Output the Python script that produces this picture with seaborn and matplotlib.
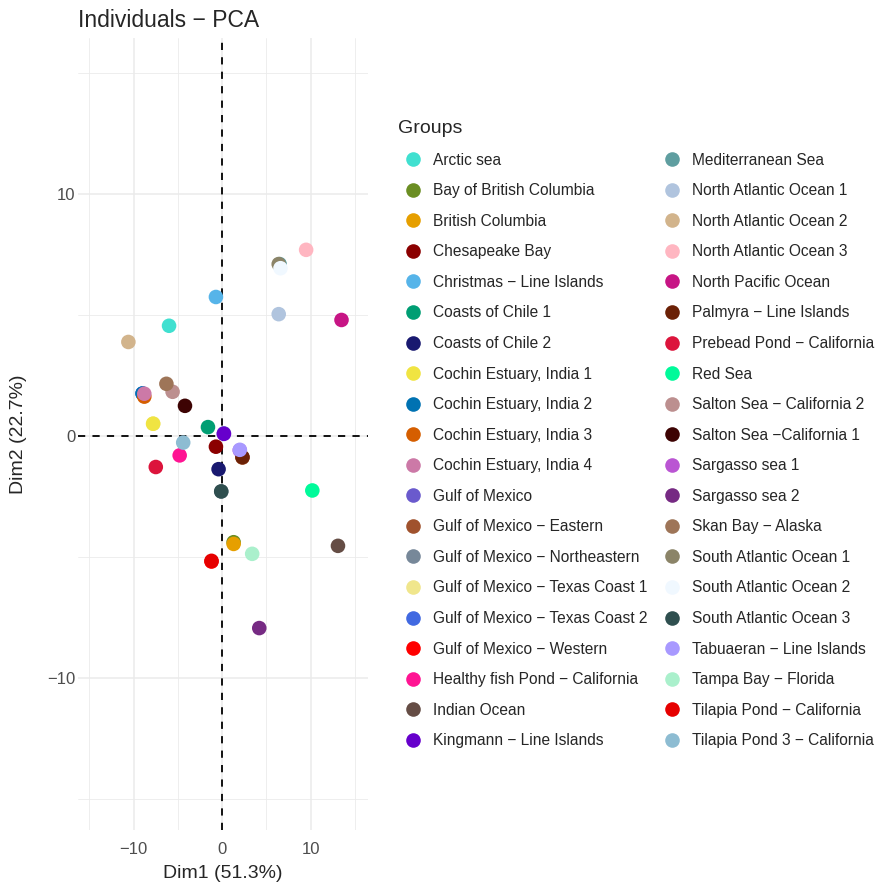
import matplotlib
matplotlib.use("Agg")
import matplotlib.pyplot as plt
from matplotlib.lines import Line2D
import seaborn as sns
import pandas as pd

# Groups in legend order
groups = [
    "Arctic sea", "Bay of British Columbia", "British Columbia", "Chesapeake Bay",
    "Christmas − Line Islands", "Coasts of Chile 1", "Coasts of Chile 2",
    "Cochin Estuary, India 1", "Cochin Estuary, India 2", "Cochin Estuary, India 3",
    "Cochin Estuary, India 4", "Gulf of Mexico", "Gulf of Mexico − Eastern",
    "Gulf of Mexico − Northeastern", "Gulf of Mexico − Texas Coast 1",
    "Gulf of Mexico − Texas Coast 2", "Gulf of Mexico − Western",
    "Healthy fish Pond − California", "Indian Ocean", "Kingmann − Line Islands",
    "Mediterranean Sea", "North Atlantic Ocean 1", "North Atlantic Ocean 2",
    "North Atlantic Ocean 3", "North Pacific Ocean", "Palmyra − Line Islands",
    "Prebead Pond − California", "Red Sea", "Salton Sea − California 2",
    "Salton Sea −California 1", "Sargasso sea 1", "Sargasso sea 2",
    "Skan Bay − Alaska", "South Atlantic Ocean 1", "South Atlantic Ocean 2",
    "South Atlantic Ocean 3", "Tabuaeran − Line Islands", "Tampa Bay − Florida",
    "Tilapia Pond − California", "Tilapia Pond 3 − California",
]

colors = [
    "#40E0D0", "#6B8E23", "#E69F00", "#8B0000", "#56B4E9", "#009E73", "#191970",
    "#F0E442", "#0072B2", "#D55E00", "#CC79A7", "#6A5ACD", "#A0522D", "#778899",
    "#F0E68C", "#4169E1", "#FF0000", "#FF1493", "#654D45", "#6600CC",
    "#5F9EA0", "#B0C4DE", "#D2B48C", "#FFB6C1", "#C71585", "#6B2106",
    "#DC143C", "#00FA9A", "#BC8F8F", "#3D0303", "#BA55D3", "#762A83",
    "#9E7558", "#8B8468", "#F0F8FF", "#2F4F4F", "#A899FF", "#AAF0CC",
    "#E60000", "#8DBCD2",
]

# Individual coordinates on the first two principal components (row order = drawing order)
ind_group = [
    "Gulf of Mexico", "Gulf of Mexico − Eastern", "Gulf of Mexico − Northeastern",
    "Gulf of Mexico − Texas Coast 1", "Gulf of Mexico − Texas Coast 2",
    "Gulf of Mexico − Western", "Sargasso sea 1", "Mediterranean Sea",
    "Bay of British Columbia",
    "Arctic sea", "British Columbia", "Chesapeake Bay", "Christmas − Line Islands",
    "Coasts of Chile 1", "Coasts of Chile 2", "Cochin Estuary, India 1",
    "Cochin Estuary, India 2", "Cochin Estuary, India 3", "Cochin Estuary, India 4",
    "Healthy fish Pond − California", "Indian Ocean", "Kingmann − Line Islands",
    "North Atlantic Ocean 1", "North Atlantic Ocean 2", "North Atlantic Ocean 3",
    "North Pacific Ocean", "Palmyra − Line Islands", "Prebead Pond − California",
    "Red Sea", "Salton Sea − California 2", "Salton Sea −California 1",
    "Sargasso sea 2", "Skan Bay − Alaska", "South Atlantic Ocean 1",
    "South Atlantic Ocean 2", "South Atlantic Ocean 3", "Tabuaeran − Line Islands",
    "Tampa Bay − Florida", "Tilapia Pond − California", "Tilapia Pond 3 − California",
]
dim1 = [
    0.2, 2.3, -0.1, -7.8, -9.0, -1.2, 2.0, 6.5, 1.3,
    -6.0, 1.3, -0.7, -0.7, -1.6, -0.4, -7.8,
    -9.0, -8.8, -8.8, -4.8, 13.1, 0.2,
    6.4, -10.6, 9.5, 13.5, 2.3, -7.5,
    10.2, -5.6, -4.2, 4.2, -6.3, 6.4,
    6.6, -0.1, 2.0, 3.4, -1.2, -4.4,
]
dim2 = [
    0.1, -0.9, -2.3, 0.5, 1.75, -5.2, -0.6, 7.1, -4.40,
    4.55, -4.47, -0.45, 5.74, 0.36, -1.38, 0.50,
    1.75, 1.62, 1.74, -0.81, -4.55, 0.08,
    5.03, 3.88, 7.69, 4.79, -0.88, -1.29,
    -2.26, 1.82, 1.24, -7.95, 2.15, 7.10,
    6.93, -2.30, -0.58, -4.88, -5.17, -0.28,
]

palette = dict(zip(groups, colors))
df = pd.DataFrame({"Dim1": dim1, "Dim2": dim2, "Groups": ind_group})

sns.set_style("white")
plt.rcParams["font.family"] = ["Liberation Sans", "DejaVu Sans"]

fig = plt.figure(figsize=(8.79, 8.83), dpi=100)
ax = fig.add_axes([0.0887, 0.060, 0.33, 0.897])

sns.scatterplot(data=df, x="Dim1", y="Dim2", hue="Groups", hue_order=groups,
                palette=palette, s=110, linewidth=0, legend=False, ax=ax, zorder=3)

ax.set_xlim(-16.3, 16.5)
ax.set_ylim(-16.3, 16.45)
ax.set_xticks([-10, 0, 10])
ax.set_yticks([-10, 0, 10])
ax.set_xticks([-15, -5, 5, 15], minor=True)
ax.set_yticks([-15, -5, 5, 15], minor=True)
ax.set_xticklabels(["−10", "0", "10"])
ax.set_yticklabels(["−10", "0", "10"])
ax.grid(which="major", color="#EBEBEB", linewidth=1.1, zorder=0)
ax.grid(which="minor", color="#EBEBEB", linewidth=0.6, zorder=0)
ax.set_axisbelow(True)
for sp in ax.spines.values():
    sp.set_visible(False)
ax.tick_params(axis="both", which="both", length=0, labelsize=12,
               labelcolor="#4D4D4D")
ax.tick_params(axis="x", pad=8.5)
ax.tick_params(axis="y", pad=2)

ax.axhline(0, color="black", linestyle=(0, (4, 4)), linewidth=1.3, zorder=2)
ax.axvline(0, color="black", linestyle=(0, (4, 4)), linewidth=1.3, zorder=2)

ax.set_xlabel("Dim1 (51.3%)", fontsize=14, labelpad=6)
ax.set_ylabel("Dim2 (22.7%)", fontsize=14, labelpad=14)
ax.set_title("Individuals − PCA", fontsize=16.5, loc="left", pad=8)

handles = [Line2D([0], [0], marker="o", linestyle="", markersize=10.5,
                  markerfacecolor=palette[g], markeredgewidth=0) for g in groups]
leg = fig.legend(handles, groups, title="Groups", ncol=2, frameon=False,
                 loc="upper left", bbox_to_anchor=(0.4457, 0.871),
                 fontsize=11.2, title_fontsize=14, labelspacing=1.0,
                 handletextpad=0.32, columnspacing=0.58, handlelength=1.93,
                 borderaxespad=0, alignment="left")

fig.savefig("out.png", dpi=100)
